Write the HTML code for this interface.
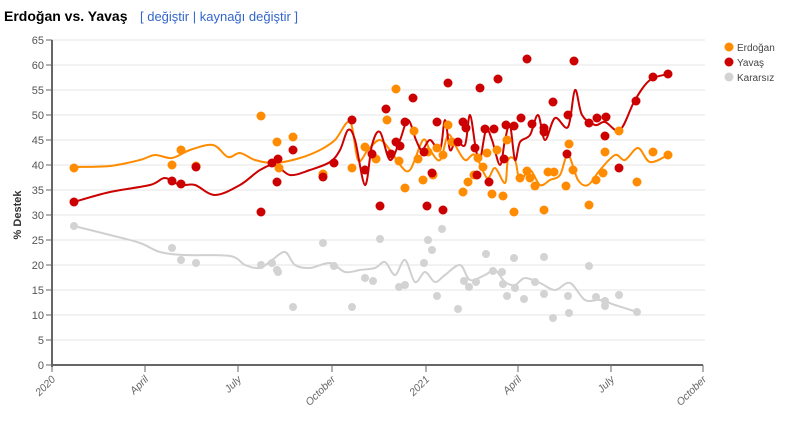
<!DOCTYPE html><html><head><meta charset="utf-8"><style>body{margin:0;background:#fff;width:795px;height:423px;overflow:hidden;font-family:"Liberation Sans",sans-serif}</style></head><body>
<svg id="s" width="795" height="423" xmlns="http://www.w3.org/2000/svg" font-family="Liberation Sans, sans-serif">
<text x="4" y="21" font-size="14" font-weight="bold" fill="#000">Erdoğan vs. Yavaş</text>
<text x="140" y="21" font-size="13" fill="#3366cc">[ değiştir | kaynağı değiştir ]</text>
<g stroke="#e4e4e4" stroke-width="1">
<line x1="52" x2="705" y1="40" y2="40"/><line x1="52" x2="705" y1="65" y2="65"/><line x1="52" x2="705" y1="90" y2="90"/><line x1="52" x2="705" y1="115" y2="115"/><line x1="52" x2="705" y1="140" y2="140"/><line x1="52" x2="705" y1="165" y2="165"/><line x1="52" x2="705" y1="190" y2="190"/><line x1="52" x2="705" y1="215" y2="215"/><line x1="52" x2="705" y1="240" y2="240"/><line x1="52" x2="705" y1="265" y2="265"/><line x1="52" x2="705" y1="290" y2="290"/><line x1="52" x2="705" y1="315" y2="315"/><line x1="52" x2="705" y1="340" y2="340"/>
</g>
<g stroke="#666" stroke-width="2" fill="none"><line x1="52" y1="40" x2="52" y2="367"/><line x1="51" y1="365" x2="703" y2="365"/></g>
<g stroke="#666" stroke-width="1"><line x1="46" x2="52" y1="40" y2="40"/><line x1="46" x2="52" y1="65" y2="65"/><line x1="46" x2="52" y1="90" y2="90"/><line x1="46" x2="52" y1="115" y2="115"/><line x1="46" x2="52" y1="140" y2="140"/><line x1="46" x2="52" y1="165" y2="165"/><line x1="46" x2="52" y1="190" y2="190"/><line x1="46" x2="52" y1="215" y2="215"/><line x1="46" x2="52" y1="240" y2="240"/><line x1="46" x2="52" y1="265" y2="265"/><line x1="46" x2="52" y1="290" y2="290"/><line x1="46" x2="52" y1="315" y2="315"/><line x1="46" x2="52" y1="340" y2="340"/><line x1="46" x2="52" y1="365" y2="365"/>
<line x1="52" x2="52" y1="365" y2="372"/><line x1="145" x2="145" y1="365" y2="372"/><line x1="238" x2="238" y1="365" y2="372"/><line x1="332" x2="332" y1="365" y2="372"/><line x1="426" x2="426" y1="365" y2="372"/><line x1="518" x2="518" y1="365" y2="372"/><line x1="611" x2="611" y1="365" y2="372"/><line x1="703" x2="703" y1="365" y2="372"/></g>
<g font-size="11" fill="#555" text-anchor="end"><text x="44" y="44">65</text><text x="44" y="69">60</text><text x="44" y="94">55</text><text x="44" y="119">50</text><text x="44" y="144">45</text><text x="44" y="169">40</text><text x="44" y="194">35</text><text x="44" y="219">30</text><text x="44" y="244">25</text><text x="44" y="269">20</text><text x="44" y="294">15</text><text x="44" y="319">10</text><text x="44" y="344">5</text><text x="44" y="369">0</text></g>
<g font-size="10.5" fill="#666" font-style="italic" text-anchor="end">
<text transform="translate(56,380) rotate(-45)">2020</text><text transform="translate(149,380) rotate(-45)">April</text><text transform="translate(242,380) rotate(-45)">July</text><text transform="translate(336,380) rotate(-45)">October</text><text transform="translate(430,380) rotate(-45)">2021</text><text transform="translate(522,380) rotate(-45)">April</text><text transform="translate(615,380) rotate(-45)">July</text><text transform="translate(707,380) rotate(-45)">October</text></g>
<text transform="translate(21,215) rotate(-90)" font-size="11" font-weight="bold" fill="#333" text-anchor="middle">% Destek</text>
<g fill="none" stroke-width="2" stroke-linejoin="round" stroke-linecap="round">
<polyline class="sm" stroke="#d0d0d0" points="74,226 110,235 140,243 160,252 185,255 230,256 245,265 260,268 272,260 285,252 295,265 310,268 330,263 345,272 360,270 375,268 385,262 395,275 405,260 415,282 425,272 435,282 445,275 460,265 470,280 485,275 495,270 505,282 515,285 525,278 540,283 555,290 570,283 585,300 600,300 615,305 637,312"/>
<polyline class="sm" stroke="#ff8c00" points="74,167 110,166 140,160 155,155 172,158 190,150 213,145 228,157 240,153 255,160 275,163 300,158 320,150 335,140 350,122 358,160 368,150 380,140 392,153 400,165 410,170 423,140 430,150 440,160 448,135 455,145 465,160 475,155 487,178 495,168 505,183 508,160 515,160 520,180 530,170 540,185 550,180 560,175 568,155 578,180 588,185 600,170 615,155 625,160 638,148 650,162 668,155"/>
<polyline class="sm" stroke="#cc0000" points="74,202 110,192 150,185 165,178 180,185 195,185 215,195 240,185 260,170 275,165 290,175 310,170 330,162 340,150 348,130 355,140 365,185 372,145 380,132 390,160 400,140 408,120 416,140 422,150 430,140 440,150 445,120 450,150 456,140 465,145 470,115 476,150 480,160 486,130 492,140 500,165 505,140 510,125 515,160 520,142 530,135 538,115 545,140 555,118 568,127 575,90 582,115 595,125 605,122 620,130 635,100 650,80 668,74"/>
</g>
<g fill="#d3d3d3"><circle cx="74" cy="226" r="4"/><circle cx="172" cy="248" r="4"/><circle cx="181" cy="260" r="4"/><circle cx="196" cy="263" r="4"/><circle cx="261" cy="265" r="4"/><circle cx="272" cy="263" r="4"/><circle cx="277" cy="270" r="4"/><circle cx="278" cy="272" r="4"/><circle cx="293" cy="307" r="4"/><circle cx="323" cy="243" r="4"/><circle cx="334" cy="266" r="4"/><circle cx="352" cy="307" r="4"/><circle cx="365" cy="278" r="4"/><circle cx="373" cy="281" r="4"/><circle cx="380" cy="239" r="4"/><circle cx="399" cy="287" r="4"/><circle cx="405" cy="285" r="4"/><circle cx="424" cy="263" r="4"/><circle cx="428" cy="240" r="4"/><circle cx="432" cy="250" r="4"/><circle cx="437" cy="296" r="4"/><circle cx="442" cy="229" r="4"/><circle cx="458" cy="309" r="4"/><circle cx="464" cy="281" r="4"/><circle cx="469" cy="287" r="4"/><circle cx="476" cy="282" r="4"/><circle cx="486" cy="254" r="4"/><circle cx="493" cy="271" r="4"/><circle cx="502" cy="272" r="4"/><circle cx="503" cy="284" r="4"/><circle cx="507" cy="296" r="4"/><circle cx="514" cy="258" r="4"/><circle cx="515" cy="288" r="4"/><circle cx="524" cy="299" r="4"/><circle cx="535" cy="282" r="4"/><circle cx="544" cy="257" r="4"/><circle cx="544" cy="294" r="4"/><circle cx="553" cy="318" r="4"/><circle cx="568" cy="296" r="4"/><circle cx="569" cy="313" r="4"/><circle cx="589" cy="266" r="4"/><circle cx="596" cy="297" r="4"/><circle cx="605" cy="301" r="4"/><circle cx="605" cy="306" r="4"/><circle cx="619" cy="295" r="4"/><circle cx="637" cy="312" r="4"/></g>
<g fill="#ff8c00"><circle cx="74" cy="168" r="4.5"/><circle cx="172" cy="165" r="4.5"/><circle cx="181" cy="150" r="4.5"/><circle cx="196" cy="166" r="4.5"/><circle cx="261" cy="116" r="4.5"/><circle cx="277" cy="142" r="4.5"/><circle cx="279" cy="168" r="4.5"/><circle cx="293" cy="137" r="4.5"/><circle cx="323" cy="174" r="4.5"/><circle cx="352" cy="168" r="4.5"/><circle cx="365" cy="147" r="4.5"/><circle cx="376" cy="159" r="4.5"/><circle cx="387" cy="120" r="4.5"/><circle cx="396" cy="89" r="4.5"/><circle cx="399" cy="161" r="4.5"/><circle cx="405" cy="188" r="4.5"/><circle cx="414" cy="131" r="4.5"/><circle cx="418" cy="159" r="4.5"/><circle cx="423" cy="180" r="4.5"/><circle cx="428" cy="152" r="4.5"/><circle cx="433" cy="175" r="4.5"/><circle cx="437" cy="148" r="4.5"/><circle cx="443" cy="155" r="4.5"/><circle cx="448" cy="125" r="4.5"/><circle cx="452" cy="142" r="4.5"/><circle cx="463" cy="192" r="4.5"/><circle cx="468" cy="182" r="4.5"/><circle cx="474" cy="175" r="4.5"/><circle cx="478" cy="158" r="4.5"/><circle cx="483" cy="167" r="4.5"/><circle cx="487" cy="153" r="4.5"/><circle cx="492" cy="194" r="4.5"/><circle cx="497" cy="150" r="4.5"/><circle cx="503" cy="196" r="4.5"/><circle cx="507" cy="140" r="4.5"/><circle cx="514" cy="212" r="4.5"/><circle cx="520" cy="178" r="4.5"/><circle cx="527" cy="171" r="4.5"/><circle cx="530" cy="178" r="4.5"/><circle cx="535" cy="186" r="4.5"/><circle cx="544" cy="210" r="4.5"/><circle cx="548" cy="172" r="4.5"/><circle cx="554" cy="172" r="4.5"/><circle cx="566" cy="186" r="4.5"/><circle cx="569" cy="144" r="4.5"/><circle cx="573" cy="170" r="4.5"/><circle cx="589" cy="205" r="4.5"/><circle cx="596" cy="180" r="4.5"/><circle cx="603" cy="173" r="4.5"/><circle cx="605" cy="152" r="4.5"/><circle cx="619" cy="131" r="4.5"/><circle cx="637" cy="182" r="4.5"/><circle cx="653" cy="152" r="4.5"/><circle cx="668" cy="155" r="4.5"/></g>
<g fill="#cc0000"><circle cx="74" cy="202" r="4.5"/><circle cx="172" cy="181" r="4.5"/><circle cx="181" cy="184" r="4.5"/><circle cx="196" cy="167" r="4.5"/><circle cx="261" cy="212" r="4.5"/><circle cx="272" cy="163" r="4.5"/><circle cx="278" cy="159" r="4.5"/><circle cx="277" cy="182" r="4.5"/><circle cx="293" cy="150" r="4.5"/><circle cx="323" cy="177" r="4.5"/><circle cx="334" cy="163" r="4.5"/><circle cx="352" cy="120" r="4.5"/><circle cx="365" cy="170" r="4.5"/><circle cx="380" cy="206" r="4.5"/><circle cx="372" cy="154" r="4.5"/><circle cx="386" cy="109" r="4.5"/><circle cx="391" cy="154" r="4.5"/><circle cx="396" cy="142" r="4.5"/><circle cx="400" cy="146" r="4.5"/><circle cx="405" cy="122" r="4.5"/><circle cx="413" cy="98" r="4.5"/><circle cx="424" cy="152" r="4.5"/><circle cx="427" cy="206" r="4.5"/><circle cx="432" cy="173" r="4.5"/><circle cx="437" cy="122" r="4.5"/><circle cx="443" cy="210" r="4.5"/><circle cx="448" cy="83" r="4.5"/><circle cx="458" cy="142" r="4.5"/><circle cx="463" cy="122" r="4.5"/><circle cx="466" cy="128" r="4.5"/><circle cx="475" cy="148" r="4.5"/><circle cx="477" cy="175" r="4.5"/><circle cx="480" cy="88" r="4.5"/><circle cx="485" cy="129" r="4.5"/><circle cx="489" cy="182" r="4.5"/><circle cx="494" cy="129" r="4.5"/><circle cx="498" cy="79" r="4.5"/><circle cx="504" cy="159" r="4.5"/><circle cx="506" cy="125" r="4.5"/><circle cx="514" cy="126" r="4.5"/><circle cx="521" cy="118" r="4.5"/><circle cx="527" cy="59" r="4.5"/><circle cx="532" cy="124" r="4.5"/><circle cx="544" cy="128" r="4.5"/><circle cx="544" cy="132" r="4.5"/><circle cx="553" cy="102" r="4.5"/><circle cx="567" cy="154" r="4.5"/><circle cx="568" cy="115" r="4.5"/><circle cx="574" cy="61" r="4.5"/><circle cx="589" cy="123" r="4.5"/><circle cx="597" cy="118" r="4.5"/><circle cx="605" cy="136" r="4.5"/><circle cx="606" cy="117" r="4.5"/><circle cx="619" cy="168" r="4.5"/><circle cx="636" cy="101" r="4.5"/><circle cx="653" cy="77" r="4.5"/><circle cx="668" cy="74" r="4.5"/></g>
<g font-size="10" fill="#444"><circle cx="729" cy="47" r="4.5" fill="#ff8c00"/><text x="737" y="51">Erdoğan</text><circle cx="729" cy="62" r="4.5" fill="#cc0000"/><text x="737" y="66">Yavaş</text><circle cx="729" cy="77" r="4.5" fill="#d3d3d3"/><text x="737" y="81">Kararsız</text></g>
</svg>
<script>
document.querySelectorAll('polyline.sm').forEach(function(pl){
var p=pl.getAttribute('points').trim().split(/\s+/).map(function(s){return s.split(',').map(Number);});
var d='M'+p[0][0]+','+p[0][1];
for(var i=0;i<p.length-1;i++){var a=p[Math.max(i-1,0)],b=p[i],c=p[i+1],e=p[Math.min(i+2,p.length-1)];
var c1x=b[0]+(c[0]-a[0])/6,c1y=b[1]+(c[1]-a[1])/6,c2x=c[0]-(e[0]-b[0])/6,c2y=c[1]-(e[1]-b[1])/6;
d+=' C'+c1x.toFixed(1)+','+c1y.toFixed(1)+' '+c2x.toFixed(1)+','+c2y.toFixed(1)+' '+c[0]+','+c[1];}
var path=document.createElementNS('http://www.w3.org/2000/svg','path');
path.setAttribute('d',d);path.setAttribute('stroke',pl.getAttribute('stroke'));
pl.parentNode.replaceChild(path,pl);});
</script>
</body></html>
